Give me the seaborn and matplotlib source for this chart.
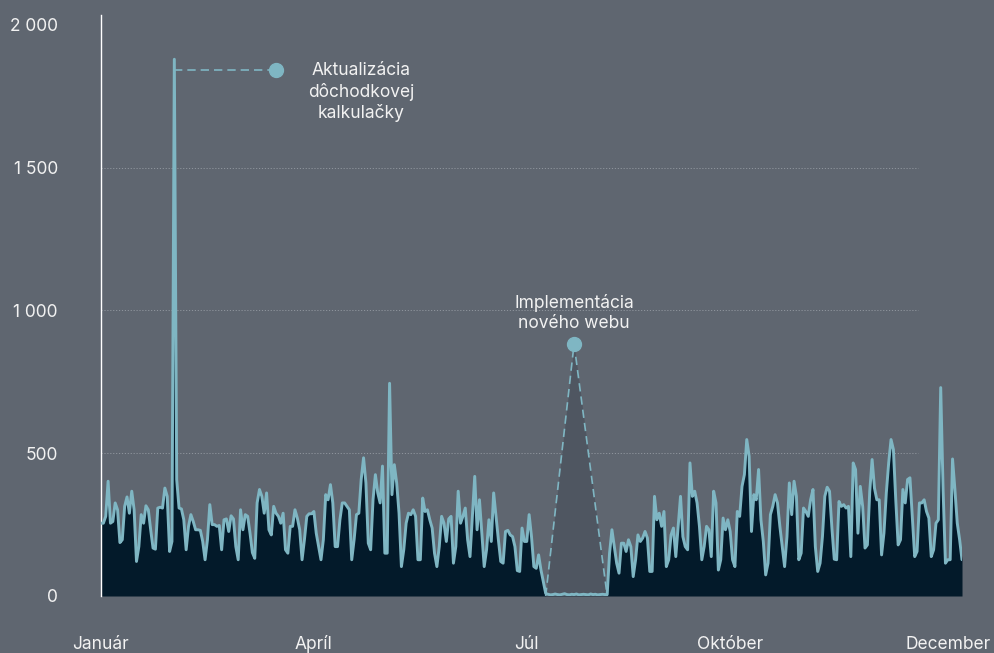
import numpy as np
import pandas as pd
import seaborn as sns
import matplotlib.pyplot as plt

# Daily visits
jan = [255, 255, 279, 402, 255, 261, 326, 302, 187, 197, 314, 347, 290, 367, 302, 121,
       173, 285, 255, 316, 302, 232, 168, 164, 308, 311, 308, 378, 349, 156, 191]
feb = [1880, 408, 308, 305, 267, 162, 244, 285, 261, 232, 232, 230, 191, 127, 197, 320,
       250, 250, 244, 247, 162, 267, 270, 226, 281, 270, 173, 127]
mar = [302, 232, 285, 279, 220, 152, 132, 326, 373, 349, 290, 361, 232, 214, 314, 290,
       279, 255, 290, 162, 150, 244, 244, 302, 273, 232, 127, 197, 279, 288, 288]
apr = [296, 220, 173, 127, 197, 355, 337, 390, 326, 173, 173, 267, 326, 326, 314, 302,
       127, 197, 285, 290, 408, 484, 396, 185, 162, 337, 425, 361, 326, 455]
may = [150, 150, 745, 355, 460, 396, 290, 103, 162, 255, 290, 285, 302, 279, 127, 127,
       343, 296, 302, 267, 238, 150, 103, 173, 279, 255, 191, 270, 279, 115, 173]
jun = [367, 255, 279, 308, 197, 138, 279, 419, 232, 337, 220, 103, 162, 267, 191, 361,
       279, 197, 121, 115, 226, 230, 214, 208, 173, 89, 86, 238, 191, 191]
jul = [285, 208, 103, 97, 144, 91, 50, 9, 6, 4, 5, 7, 5, 4, 6, 8,
       5, 4, 6, 5, 7, 4, 5, 6, 5, 4, 7, 5, 6, 4, 5]
aug = [6, 5, 5, 150, 232, 173, 115, 80, 185, 185, 156, 197, 173, 68, 127, 214,
       191, 203, 226, 203, 86, 86, 349, 267, 290, 244, 296, 103, 127, 214, 238]
sep = [138, 244, 349, 208, 173, 162, 466, 349, 367, 326, 244, 127, 173, 244, 232, 138,
       367, 326, 91, 127, 273, 232, 267, 226, 127, 103, 296, 279, 384, 425]
okt = [548, 490, 226, 355, 337, 443, 267, 191, 74, 115, 285, 314, 355, 326, 244, 173,
       103, 208, 396, 285, 402, 349, 127, 150, 308, 296, 279, 337, 373, 173, 86]
nov = [115, 208, 349, 381, 367, 238, 129, 127, 331, 314, 320, 308, 314, 138, 466, 443,
       220, 384, 314, 168, 179, 367, 478, 378, 337, 337, 144, 220, 361, 466]
dec = [548, 513, 337, 179, 197, 373, 326, 408, 414, 279, 138, 156, 326, 326, 337, 296,
       273, 138, 162, 255, 267, 730, 373, 115, 127, 127, 480, 373, 255, 197, 127]

# estimated traffic while the new web was being deployed (dashed triangle)
outage_days = [188, 200, 214]
outage_estimate = [0, 883, 0]

# calculator update annotation
calc_day = 31
calc_label_day = 74
calc_label_value = 1842

month_labels = ["Január", "Apríl", "Júl", "Október", "December"]
month_ticks = [0, 90, 180, 266, 358]
y_ticks = [0, 500, 1000, 1500, 2000]
y_labels = ["0", "500", "1 000", "1 500", "2 000"]

BG = "#5f6670"
NAVY = "#031a2a"
TEAL = "#7fb6c3"
GRID = "#8f959d"
TXT = "#f2f2f2"

visits = jan + feb + mar + apr + may + jun + jul + aug + sep + okt + nov + dec
df = pd.DataFrame({"day": np.arange(len(visits)), "visits": visits})

sns.set_style("white", rc={"axes.facecolor": BG, "figure.facecolor": BG})
plt.rcParams["font.family"] = ["Inter", "DejaVu Sans"]

fig = plt.figure(figsize=(9.95, 6.53), dpi=100)
ax = fig.add_axes([101 / 995, 1 - 596 / 653, 861 / 995, 581 / 653])

# dotted gridlines behind everything
for y in y_ticks[1:-1]:
    ax.axhline(y, xmin=0, xmax=0.949, color=GRID, lw=0.7, ls=(0, (1.2, 1.8)), zorder=0)

ax.fill_between(df["day"], df["visits"], color=NAVY, lw=0, zorder=1)
ax.fill_between(outage_days, outage_estimate, color="#4f5661", lw=0, zorder=1)
sns.lineplot(data=df, x="day", y="visits", color=TEAL, lw=2.1, ax=ax, zorder=3)
ax.plot(outage_days, outage_estimate, color=TEAL, lw=1.2, dashes=(5, 3), zorder=3)

# annotations
ax.plot([calc_day, calc_label_day], [calc_label_value, calc_label_value],
        color=TEAL, lw=1.2, dashes=(5, 3), zorder=3)
ax.plot(calc_label_day, calc_label_value, "o", ms=10, color=TEAL, zorder=4)
ax.text(calc_label_day + 36, calc_label_value + 28, "Aktualizácia\ndôchodkovej\nkalkulačky",
        color=TXT, fontsize=12.5, ha="center", va="top", linespacing=1.25)
ax.plot(outage_days[1], outage_estimate[1], "o", ms=10, color=TEAL, zorder=4)
ax.text(outage_days[1], outage_estimate[1] + 42, "Implementácia\nnového webu",
        color=TXT, fontsize=12.5, ha="center", va="bottom", linespacing=1.25)

ax.set_xlim(0, len(visits) - 1)
ax.set_ylim(0, 2035)
ax.set_xticks(month_ticks)
ax.set_xticklabels(month_labels)
ax.set_yticks(y_ticks)
ax.set_yticklabels(y_labels)
ax.set_xlabel("")
ax.set_ylabel("")
ax.tick_params(axis="y", length=0, pad=31, colors=TXT, labelsize=12.5)
ax.tick_params(axis="x", length=0, pad=38.5, colors=TXT, labelsize=12.5)
for lab in ax.get_yticklabels():
    lab.set_horizontalalignment("right")
for lab in ax.get_xticklabels():
    lab.set_verticalalignment("baseline")

for s in ["top", "right", "bottom"]:
    ax.spines[s].set_visible(False)
ax.spines["left"].set_color("white")
ax.spines["left"].set_linewidth(1.0)

fig.savefig("out.png", dpi=100, facecolor=BG)
